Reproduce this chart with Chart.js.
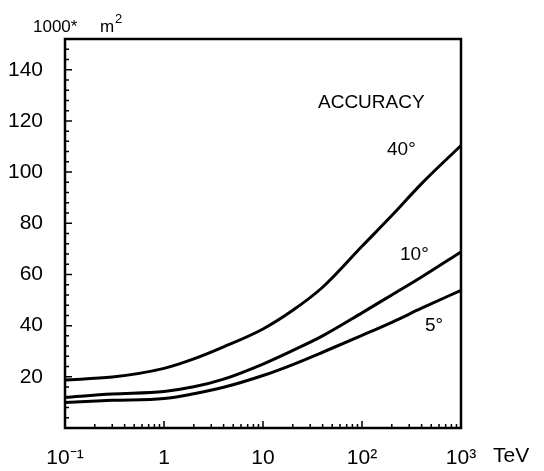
<!DOCTYPE html>
<html>
<head>
<meta charset="utf-8">
<script src="https://cdn.jsdelivr.net/npm/chart.js@4"></script>
<style>
  html, body { margin: 0; padding: 0; background: #fff; }
  #wrap { width: 544px; height: 471px; }
</style>
</head>
<body>
<div id="wrap"><canvas id="areaChart"></canvas></div>
<script>
// energies in TeV and effective area (1000 m^2) for each angular accuracy
const energy = [0.1, 0.3, 1, 2, 4, 10, 20, 40, 100, 200, 400, 1000];
const acc40 = [18.8, 19.9, 23.3, 27.0, 31.7, 38.7, 46.0, 55.0, 71.0, 83.0, 95.5, 110.4];
const acc10 = [12.0, 13.3, 14.3, 16.1, 19.1, 25.0, 30.3, 36.0, 45.0, 52.0, 59.0, 68.8];
const acc5 = [10.0, 10.8, 11.5, 13.4, 15.9, 20.5, 24.8, 29.6, 36.2, 41.3, 46.8, 53.8];
const xTicks = [0.1, 1, 10, 100, 1000];
const xTickLabels = ['10\u207B\u00B9', '1', '10', '10\u00B2', '10\u00B3'];
const yTicks = [20, 40, 60, 80, 100, 120, 140];

const FONT = "'Liberation Sans', Arial, sans-serif";

function toPoints(vals) {
  return energy.map(function(e, i) { return { x: e, y: vals[i] }; });
}

function lineSet(label, vals) {
  return {
    label: label,
    data: toPoints(vals),
    borderColor: '#000',
    borderWidth: 3,
    pointRadius: 0,
    fill: false,
    cubicInterpolationMode: 'monotone'
  };
}

// frame, inward ticks and the loose text labels
const framePlugin = {
  id: 'frame',
  afterDraw: function(chart) {
    const ctx = chart.ctx;
    const a = chart.chartArea;
    const xs = chart.scales.x;
    const ys = chart.scales.y;
    ctx.save();
    ctx.strokeStyle = '#000';
    ctx.lineWidth = 2.5;
    ctx.strokeRect(a.left, a.top, a.right - a.left, a.bottom - a.top);

    ctx.lineWidth = 1.5;
    ctx.beginPath();
    for (let v = 4; v < 152; v += 4) {
      const py = ys.getPixelForValue(v);
      const len = v % 20 === 0 ? 7 : 4;
      ctx.moveTo(a.left, py);
      ctx.lineTo(a.left + len, py);
    }
    for (let d = 0.1; d < 1000; d *= 10) {
      for (let k = 1; k <= 9; k++) {
        const v = k * d;
        if (k === 1 && d < 0.5) continue;
        const px = xs.getPixelForValue(v);
        const len = k === 1 ? 7 : 4;
        ctx.moveTo(px, a.bottom);
        ctx.lineTo(px, a.bottom - len);
      }
    }
    ctx.stroke();

    ctx.fillStyle = '#000';
    ctx.textBaseline = 'alphabetic';
    ctx.font = '17px ' + FONT;
    ctx.fillText('1000*', 33, 32);
    ctx.fillText('m', 100, 32);
    ctx.font = '13px ' + FONT;
    ctx.fillText('2', 115, 23);

    ctx.font = '19px ' + FONT;
    ctx.fillText('ACCURACY', 318, 108);
    ctx.fillText('40\u00B0', 387, 155);
    ctx.fillText('10\u00B0', 400, 260);
    ctx.fillText('5\u00B0', 425, 331);

    ctx.font = '21px ' + FONT;
    ctx.fillText('TeV', 493, 462);
    ctx.restore();
  }
};

const ctx = document.getElementById('areaChart').getContext('2d');
const chart = new Chart(ctx, {
  type: 'line',
  data: {
    datasets: [
      lineSet('40\u00B0', acc40),
      lineSet('10\u00B0', acc10),
      lineSet('5\u00B0', acc5)
    ]
  },
  options: {
    responsive: true,
    maintainAspectRatio: false,
    animation: false,
    layout: { padding: { top: 39, right: 83, left: 0, bottom: 0 } },
    plugins: {
      legend: { display: false },
      tooltip: { enabled: false }
    },
    scales: {
      x: {
        type: 'logarithmic',
        min: 0.1,
        max: 1000,
        afterBuildTicks: function(scale) {
          scale.ticks = xTicks.map(function(v) { return { value: v }; });
        },
        afterFit: function(scale) { scale.height = 43; },
        grid: { display: false },
        border: { display: false },
        ticks: {
          autoSkip: false,
          maxRotation: 0,
          padding: 10,
          color: '#000',
          font: { family: FONT, size: 21 },
          callback: function(v) {
            const i = xTicks.indexOf(v);
            return i >= 0 ? xTickLabels[i] : '';
          }
        }
      },
      y: {
        type: 'linear',
        min: 0,
        max: 152,
        afterBuildTicks: function(scale) {
          scale.ticks = yTicks.map(function(v) { return { value: v }; });
        },
        afterFit: function(scale) { scale.width = 65; },
        grid: { display: false },
        border: { display: false },
        ticks: {
          padding: 14,
          color: '#000',
          font: { family: FONT, size: 21 }
        }
      }
    }
  },
  plugins: [framePlugin]
});
</script>
</body>
</html>
